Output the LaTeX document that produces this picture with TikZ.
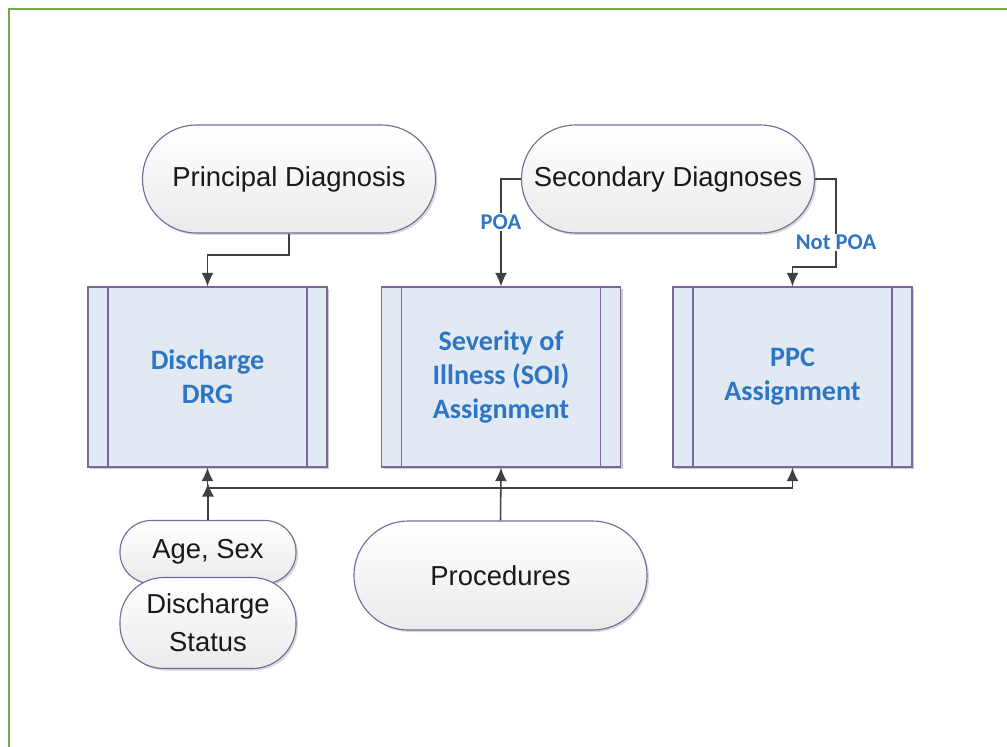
\documentclass[tikz,border=0pt]{standalone}
\usepackage{fontspec}
\setmainfont{Liberation Sans}
\newfontfamily\boxfont{Carlito}
\usepackage{xcolor}
\usetikzlibrary{arrows.meta,shadows}

\definecolor{framegreen}{RGB}{112,173,71}
\definecolor{edgepurple}{RGB}{122,104,152}
\definecolor{boxfill}{RGB}{225,233,242}
\definecolor{textblue}{RGB}{46,117,196}
\definecolor{linegray}{RGB}{64,64,64}

\tikzset{
  terminal/.style={rectangle, rounded corners=#1, draw=edgepurple, line width=0.8pt,
    top color=white, bottom color=black!8, inner sep=0pt, align=center, text=black!90,
    font=\fontsize{19.5}{27}\selectfont,
    drop shadow={shadow xshift=0.05cm, shadow yshift=-0.05cm, opacity=0.15, fill=black}},
  terminal/.default=1.35cm,
  process/.style={rectangle, draw=edgepurple, line width=0.8pt, fill=boxfill,
    minimum width=5.975cm, minimum height=4.5cm, inner sep=0pt, align=center, text=textblue,
    font=\boxfont\bfseries\fontsize{20}{24}\selectfont,
    drop shadow={shadow xshift=0.06cm, shadow yshift=-0.06cm, opacity=0.2, fill=black},
    path picture={
      \draw[edgepurple, line width=0.9pt]
        ([xshift=0.5cm]path picture bounding box.north west) -- ([xshift=0.5cm]path picture bounding box.south west)
        ([xshift=-0.5cm]path picture bounding box.north east) -- ([xshift=-0.5cm]path picture bounding box.south east);
    }},
  flow/.style={draw=linegray, line width=1.1pt, -{Latex[length=0.34cm, width=0.3cm]}},
  flowlabel/.style={fill=white, inner sep=1pt, text=textblue, font=\boxfont\bfseries\fontsize{16}{18}\selectfont}
}

\begin{document}
\begin{tikzpicture}[x=0.025cm, y=-0.025cm]
\useasboundingbox (0,0) rectangle (1007,746);
\fill[white] (0,0) rectangle (1007,746);
\draw[framegreen, line width=1.8pt] (9,760) -- (9,9) -- (1020,9);

% inputs on top
\node[terminal, minimum width=7.325cm, minimum height=2.7cm] (princ) at (289,179) {Principal Diagnosis};
\node[terminal, minimum width=7.325cm, minimum height=2.7cm] (second) at (668,179) {Secondary Diagnoses};

% grouping steps
\node[process] (drg) at (207.5,377) {Discharge\\DRG};
\node[process] (soi) at (501,377) {Severity of\\Illness (SOI)\\Assignment};
\node[process] (ppc) at (792.5,377) {PPC\\Assignment};

% inputs below
\node[terminal=0.78cm, minimum width=4.4cm, minimum height=1.575cm] (age) at (208,552) {Age, Sex};
\node[terminal=1.1cm, minimum width=4.4cm, minimum height=2.275cm] (status) at (208,623) {Discharge\\Status};
\node[terminal=1.36cm, minimum width=7.325cm, minimum height=2.725cm] (proc) at (500.5,575.5) {Procedures};

\coordinate (pdbend) at (289,255);
\coordinate (npbend) at (836,267);
\coordinate (bus) at (500.5,488);
\coordinate (agetip) at (208,483);

\draw[flow] (princ.south) -- (pdbend) -| (drg.north);
\draw[flow] (second.west) -| node[flowlabel, pos=0.7] {POA} (soi.north);
\draw[flow] (second.east) -| node[flowlabel, pos=0.86] {Not POA} (npbend) -| (ppc.north);
\draw[flow] (age.north) -- (agetip);
\draw[flow] (proc.north) -- (soi.south);
\draw[flow] (bus) -| (drg.south);
\draw[flow] (bus) -| (ppc.south);
\end{tikzpicture}
\end{document}
